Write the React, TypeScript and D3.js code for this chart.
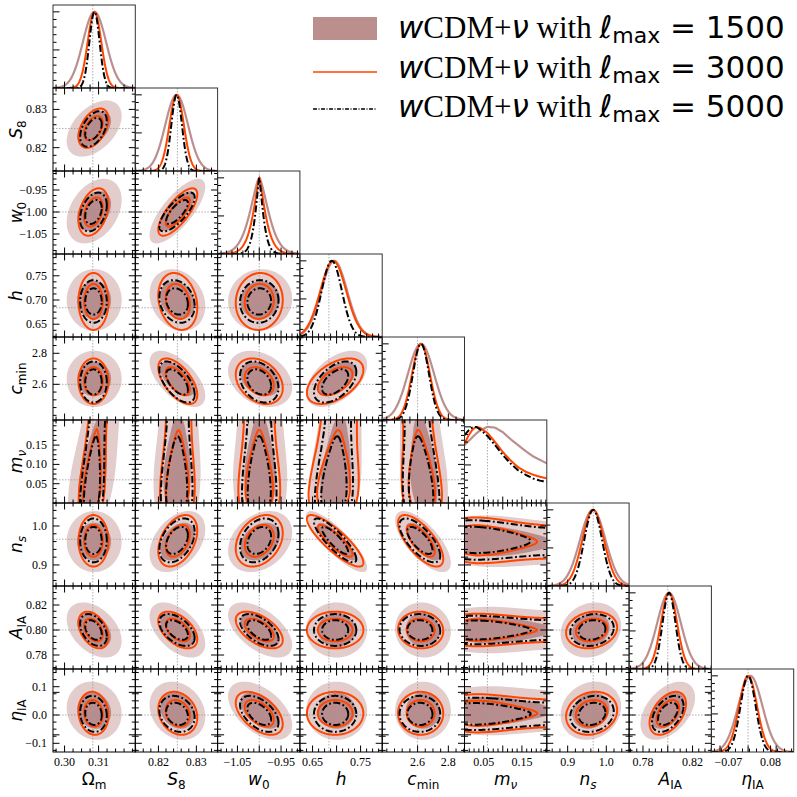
import React from 'react';
import * as d3 from 'd3';

// ---------------- data ----------------
const PARAM_KEYS = ['Om', 'S8', 'w0', 'h', 'cmin', 'mnu', 'ns', 'AIA', 'eta'];
const AXIS_LO = [0.2966, 0.8139, -1.0955, 0.6236, 2.37, 0.0, 0.846, 0.7688, -0.1307];
const AXIS_HI = [0.3208, 0.8356, -0.9068, 0.795, 2.905, 0.215, 1.059, 0.8352, 0.1625];
const TRUTH = [0.3083, 0.825, -1.0, 0.684, 2.6, 0.06, 0.966, 0.8, 0.0];

const X_TICKS = [[0.3, 0.31], [0.82, 0.83], [-1.05, -0.95], [0.65, 0.75], [2.6, 2.8], [0.05, 0.15], [0.9, 1.0], [0.78, 0.82], [-0.07, 0.08]];
const X_TICK_LABELS = [['0.30', '0.31'], ['0.82', '0.83'], ['−1.05', '−0.95'], ['0.65', '0.75'], ['2.6', '2.8'], ['0.05', '0.15'], ['0.9', '1.0'], ['0.78', '0.82'], ['−0.07', '0.08']];
const Y_TICKS = [[], [0.82, 0.83], [-1.05, -1.0, -0.95], [0.65, 0.7, 0.75], [2.6, 2.8], [0.05, 0.1, 0.15], [0.9, 1.0], [0.78, 0.8, 0.82], [-0.1, 0.0, 0.1]];
const Y_TICK_LABELS = [[], ['0.82', '0.83'], ['−1.05', '−1.00', '−0.95'], ['0.65', '0.70', '0.75'], ['2.6', '2.8'], ['0.05', '0.10', '0.15'], ['0.9', '1.0'], ['0.78', '0.80', '0.82'], ['−0.1', '0.0', '0.1']];
const MINOR_STEP = [0.0025, 0.002, 0.0125, 0.0125, 0.05, 0.0125, 0.02, 0.005, 0.025];

const AXIS_MAIN = ['Ω', 'S', 'w', 'h', 'c', 'm', 'n', 'A', 'η'];
const AXIS_MAIN_ITALIC = [false, true, true, true, true, true, true, true, true];
const AXIS_SUB = ['m', '8', '0', '', 'min', 'ν', 's', 'IA', 'IA'];
const AXIS_SUB_ITALIC = [false, false, false, false, false, true, true, false, false];

const RUN_LABELS = ['1500', '3000', '5000'];

// 2D (contour) means and widths
const MEAN_1500 = [0.3087, 0.825, -0.998, 0.7, 2.635, 0, 0.96, 0.8, 0.015];
const MEAN_3000 = [0.3085, 0.8251, -1.0, 0.697, 2.62, 0, 0.962, 0.8, 0.006];
const MEAN_5000 = [0.3085, 0.8249, -1.0, 0.697, 2.615, 0, 0.963, 0.8, 0.004];
const SD_1500 = [0.0033, 0.003, 0.03, 0.026, 0.074, 0, 0.032, 0.009, 0.042];
const SD_3000 = [0.0018, 0.0021, 0.022, 0.024, 0.06, 0, 0.027, 0.006, 0.031];
const SD_5000 = [0.0016, 0.0019, 0.018, 0.018, 0.054, 0, 0.023, 0.0052, 0.026];

// 1D marginal peaks, widths, shape exponents
const MEAN1D_1500 = [0.3088, 0.8248, -1.0, 0.695, 2.622, 0, 0.965, 0.801, 0.008];
const MEAN1D_3000 = [0.3088, 0.8248, -1.0, 0.693, 2.622, 0, 0.966, 0.801, 0.0];
const MEAN1D_5000 = [0.3088, 0.8248, -1.0, 0.69, 2.622, 0, 0.966, 0.801, 0.0];
const SD1D_1500 = [0.0034, 0.003, 0.019, 0.027, 0.085, 0, 0.033, 0.0095, 0.043];
const SD1D_3000 = [0.002, 0.0019, 0.0118, 0.027, 0.058, 0, 0.028, 0.0065, 0.032];
const SD1D_5000 = [0.0015, 0.0014, 0.0075, 0.021, 0.052, 0, 0.023, 0.0052, 0.027];
const SHAPE1D_1500 = [2, 2, 1.5, 2, 2, 2, 2, 2, 2];
const SHAPE1D_3000 = [2, 2, 1.3, 2, 2, 2, 2, 2, 2];
const SHAPE1D_5000 = [2, 2, 1.3, 2, 2, 2, 2, 2, 2];

// neutrino mass marginal (relative density)
const MNU_GRID = [0, 0.01, 0.02, 0.03, 0.04, 0.06, 0.08, 0.1, 0.12, 0.14, 0.16, 0.18, 0.2, 0.215];
const MNU_PDF_1500 = [0.76, 0.81, 0.86, 0.91, 0.95, 1.0, 0.99, 0.93, 0.84, 0.76, 0.68, 0.61, 0.56, 0.52];
const MNU_PDF_3000 = [0.78, 0.88, 0.96, 1.0, 0.99, 0.92, 0.8, 0.67, 0.56, 0.47, 0.41, 0.37, 0.34, 0.325];
const MNU_PDF_5000 = [0.89, 0.95, 0.99, 1.0, 0.97, 0.88, 0.76, 0.63, 0.52, 0.43, 0.37, 0.32, 0.29, 0.28];

// correlation coefficients (lower triangle, row i vs col j<i)
const CORR_ROWS = [
  [],
  [0.45],
  [0.35, 0.75],
  [0.0, -0.2, 0.05],
  [0.0, -0.6, -0.3, 0.5],
  [0.3, 0.05, 0.0, 0.15, -0.15],
  [0.0, 0.4, 0.3, -0.85, -0.7, -0.05],
  [-0.4, -0.5, -0.55, 0.0, -0.05, 0.0, 0.15],
  [-0.1, -0.2, -0.5, 0.0, 0.0, 0.0, 0.15, 0.45],
];

// ---------------- styling / layout ----------------
const W = 797;
const LEFT = 53;
const TOP = 5;
const PW = 82.3;
const PH = 83;
const N = 9;
const COL_FILL_OUT = '#e2cccc';
const COL_FILL_IN = '#b98d8d';
const COL_1500 = '#bc8f8f';
const COL_3000 = '#ff4500';
const COL_5000 = '#000000';
const DASHDOT = '7,2.5,1.8,2.5';
const SERIF = "'Liberation Serif', 'Times New Roman', serif";
const SANS = "'DejaVu Sans', sans-serif";
const R2_68 = 2.279;
const R2_95 = 5.991;

const MEANS = [MEAN_1500, MEAN_3000, MEAN_5000];
const SDS = [SD_1500, SD_3000, SD_5000];
const MEANS1D = [MEAN1D_1500, MEAN1D_3000, MEAN1D_5000];
const SDS1D = [SD1D_1500, SD1D_3000, SD1D_5000];
const SHAPES1D = [SHAPE1D_1500, SHAPE1D_3000, SHAPE1D_5000];
const MNU_PDFS = [MNU_PDF_1500, MNU_PDF_3000, MNU_PDF_5000];
const MNU = 5;

function corr(i: number, j: number) {
  if (i === j) return 1;
  return i > j ? CORR_ROWS[i][j] : CORR_ROWS[j][i];
}

const xs = d3.range(N).map((j) => d3.scaleLinear().domain([AXIS_LO[j], AXIS_HI[j]]).range([LEFT + j * PW, LEFT + (j + 1) * PW]));
const ys = d3.range(N).map((i) => d3.scaleLinear().domain([AXIS_LO[i], AXIS_HI[i]]).range([TOP + (i + 1) * PH, TOP + i * PH]));

const pdfInterp = MNU_PDFS.map((p) => d3.scaleLinear().domain(MNU_GRID).range(p).clamp(true));
const mnuStats = pdfInterp.map((f) => {
  const ms = d3.range(0, 0.215, 0.0005);
  const w = ms.map((m) => f(m));
  const tot = d3.sum(w);
  const mean = d3.sum(ms.map((m, k) => m * w[k])) / tot;
  const v = d3.sum(ms.map((m, k) => (m - mean) * (m - mean) * w[k])) / tot;
  return { mean, sd: Math.sqrt(v) };
});

function ellipsePath(k: number, i: number, j: number, r2: number) {
  const mx = MEANS[k][j], my = MEANS[k][i];
  const sx = SDS[k][j], sy = SDS[k][i];
  const rho = corr(i, j);
  const r = Math.sqrt(r2);
  const pts = d3.range(0, 181).map((t) => {
    const a = (t / 180) * 2 * Math.PI;
    const u = Math.cos(a), v = Math.sin(a);
    const dx = sx * r * u;
    const dy = sy * r * (rho * u + Math.sqrt(1 - rho * rho) * v);
    return [xs[j](mx + dx), ys[i](my + dy)] as [number, number];
  });
  return (d3.line()(pts) || '') + 'Z';
}

// contours in panels involving the neutrino mass (non-Gaussian marginal)
function mnuContourPaths(k: number, other: number, mIsX: boolean) {
  const nm = 110, no = 110;
  const mLo = -0.03, mHi = 0.25;
  const oSpan = AXIS_HI[other] - AXIS_LO[other];
  const oLo = AXIS_LO[other] - 0.2 * oSpan, oHi = AXIS_HI[other] + 0.2 * oSpan;
  const pdf = pdfInterp[k];
  const { mean: mbar, sd: msd } = mnuStats[k];
  const rho = corr(MNU, other);
  const sx = SDS[k][other], mu = MEANS[k][other];
  const b = (rho * sx) / msd;
  const s = sx * Math.sqrt(1 - rho * rho);
  const nx = mIsX ? nm : no, ny = mIsX ? no : nm;
  const xLo = mIsX ? mLo : oLo, xHi = mIsX ? mHi : oHi;
  const yLo = mIsX ? oLo : mLo, yHi = mIsX ? oHi : mHi;
  const vals: number[] = new Array(nx * ny);
  const inside: number[] = [];
  for (let iy = 0; iy < ny; iy++) {
    for (let ix = 0; ix < nx; ix++) {
      const x = xLo + ((ix + 0.5) / nx) * (xHi - xLo);
      const y = yLo + ((iy + 0.5) / ny) * (yHi - yLo);
      const m = mIsX ? x : y;
      const o = mIsX ? y : x;
      const z = (o - mu - b * (m - mbar)) / s;
      const d = pdf(m) * Math.exp(-0.5 * z * z);
      vals[ix + iy * nx] = d;
      if (m >= 0 && m <= 0.215) inside.push(d);
    }
  }
  inside.sort((a, c) => c - a);
  const tot = d3.sum(inside);
  const level = (f: number) => {
    let c = 0;
    for (let q = 0; q < inside.length; q++) {
      c += inside[q];
      if (c >= f * tot) return inside[q];
    }
    return inside[inside.length - 1];
  };
  const l95 = level(0.95), l68 = level(0.68);
  const cs = d3.contours().size([nx, ny]).thresholds([l95, l68])(vals);
  const xsc = mIsX ? xs[MNU] : xs[other];
  const ysc = mIsX ? ys[other] : ys[MNU];
  const proj = d3.geoTransform({
    point: function (gx: number, gy: number) {
      // @ts-ignore
      this.stream.point(xsc(xLo + (gx / nx) * (xHi - xLo)), ysc(yLo + (gy / ny) * (yHi - yLo)));
    },
  });
  const gp = d3.geoPath(proj as any);
  return [gp(cs[0] as any) || '', gp(cs[1] as any) || ''];
}

function contourPaths(k: number, i: number, j: number) {
  if (i === MNU) return mnuContourPaths(k, j, false);
  if (j === MNU) return mnuContourPaths(k, i, true);
  return [ellipsePath(k, i, j, R2_95), ellipsePath(k, i, j, R2_68)];
}

function density1D(k: number, p: number) {
  const yTop = TOP + p * PH, yBot = TOP + (p + 1) * PH;
  const ysc = d3.scaleLinear().domain([0, 1.09]).range([yBot, yTop]);
  let pts: [number, number][];
  if (p === MNU) {
    const f = pdfInterp[k];
    const ms = d3.range(0, 0.2151, 0.0025);
    const mx = d3.max(ms.map((m) => f(m))) || 1;
    const line = d3.line<number>().x((m) => xs[p](m)).y((m) => ysc(f(m) / mx)).curve(d3.curveBasis);
    return line(ms) || '';
  }
  const mu = MEANS1D[k][p], sd = SDS1D[k][p], sh = SHAPES1D[k][p];
  const vs = d3.range(0, 301).map((t) => AXIS_LO[p] + (t / 300) * (AXIS_HI[p] - AXIS_LO[p]));
  pts = vs.map((v) => {
    const z = Math.abs((v - mu) / sd);
    return [xs[p](v), ysc(Math.exp(-0.5 * Math.pow(z, sh)))];
  });
  return d3.line()(pts) || '';
}

function minorTicks(p: number, majors: number[]) {
  const step = MINOR_STEP[p];
  const anchor = majors.length ? majors[0] : TRUTH[p];
  const out: number[] = [];
  const kLo = Math.ceil((AXIS_LO[p] - anchor) / step - 1e-9);
  const kHi = Math.floor((AXIS_HI[p] - anchor) / step + 1e-9);
  for (let q = kLo; q <= kHi; q++) {
    const v = anchor + q * step;
    if (!majors.some((m) => Math.abs(m - v) < step * 0.1)) out.push(v);
  }
  return out;
}

function AxisLabel({ p, x, y, rotate }: { p: number; x: number; y: number; rotate?: boolean }) {
  return (
    <text
      x={x}
      y={y}
      transform={rotate ? `rotate(-90 ${x} ${y})` : undefined}
      textAnchor="middle"
      fontFamily={SANS}
      fontSize={17}
      fill="#000"
    >
      <tspan fontStyle={AXIS_MAIN_ITALIC[p] ? 'italic' : 'normal'}>{AXIS_MAIN[p]}</tspan>
      {AXIS_SUB[p] ? (
        <tspan fontSize={12} dy={4} fontStyle={AXIS_SUB_ITALIC[p] ? 'italic' : 'normal'}>
          {AXIS_SUB[p]}
        </tspan>
      ) : null}
    </text>
  );
}

function Panel({ i, j }: { i: number; j: number }) {
  const x0 = LEFT + j * PW, y0 = TOP + i * PH;
  const x1 = x0 + PW, y1 = y0 + PH;
  const clipId = `clip-${i}-${j}`;
  const diag = i === j;
  const tickEls: React.ReactNode[] = [];
  const MAJ = 6.5, MIN = 3.5;
  const xMaj = X_TICKS[j].concat(Y_TICKS[j]).filter((v, q, a) => a.findIndex((u) => Math.abs(u - v) < 1e-9) === q);
  const xMin = minorTicks(j, xMaj);
  xMaj.forEach((v, q) => {
    const px = xs[j](v);
    tickEls.push(<line key={`xb${q}`} x1={px} x2={px} y1={y1} y2={y1 - MAJ} />);
    if (!diag) tickEls.push(<line key={`xt${q}`} x1={px} x2={px} y1={y0} y2={y0 + MAJ} />);
  });
  xMin.forEach((v, q) => {
    const px = xs[j](v);
    tickEls.push(<line key={`xbm${q}`} x1={px} x2={px} y1={y1} y2={y1 - MIN} />);
    if (!diag) tickEls.push(<line key={`xtm${q}`} x1={px} x2={px} y1={y0} y2={y0 + MIN} />);
  });
  if (!diag) {
    const yMaj = Y_TICKS[i].concat(X_TICKS[i]).filter((v, q, a) => a.findIndex((u) => Math.abs(u - v) < 1e-9) === q);
    const yMin = minorTicks(i, yMaj);
    yMaj.forEach((v, q) => {
      const py = ys[i](v);
      tickEls.push(<line key={`yl${q}`} x1={x0} x2={x0 + MAJ} y1={py} y2={py} />);
      tickEls.push(<line key={`yr${q}`} x1={x1} x2={x1 - MAJ} y1={py} y2={py} />);
    });
    yMin.forEach((v, q) => {
      const py = ys[i](v);
      tickEls.push(<line key={`ylm${q}`} x1={x0} x2={x0 + MIN} y1={py} y2={py} />);
      tickEls.push(<line key={`yrm${q}`} x1={x1} x2={x1 - MIN} y1={py} y2={py} />);
    });
  } else {
    const ysc = d3.scaleLinear().domain([0, 1.09]).range([y1, y0]);
    d3.range(1, 11).forEach((q) => {
      const py = ysc(q / 10);
      const len = q % 5 === 0 ? MAJ : MIN;
      tickEls.push(<line key={`yd${q}`} x1={x0} x2={x0 + len} y1={py} y2={py} />);
    });
  }

  const tx = xs[j](TRUTH[j]);
  const ty = diag ? null : ys[i](TRUTH[i]);

  let content: React.ReactNode;
  if (diag) {
    content = (
      <g clipPath={`url(#${clipId})`}>
        <line x1={tx} x2={tx} y1={y0} y2={y1} stroke="#999" strokeWidth={0.8} strokeDasharray="1.5,1.5" />
        <path d={density1D(0, i)} fill="none" stroke={COL_1500} strokeWidth={2.2} />
        <path d={density1D(1, i)} fill="none" stroke={COL_3000} strokeWidth={2} />
        <path d={density1D(2, i)} fill="none" stroke={COL_5000} strokeWidth={2} strokeDasharray={DASHDOT} />
      </g>
    );
  } else {
    const c1500 = contourPaths(0, i, j);
    const c3000 = contourPaths(1, i, j);
    const c5000 = contourPaths(2, i, j);
    content = (
      <g clipPath={`url(#${clipId})`}>
        <path d={c1500[0]} fill={COL_FILL_OUT} stroke="none" />
        <path d={c1500[1]} fill={COL_FILL_IN} stroke="none" />
        <line x1={tx} x2={tx} y1={y0} y2={y1} stroke="#999" strokeWidth={0.8} strokeDasharray="1.5,1.5" />
        <line x1={x0} x2={x1} y1={ty!} y2={ty!} stroke="#999" strokeWidth={0.8} strokeDasharray="1.5,1.5" />
        <path d={c3000[0]} fill="none" stroke={COL_3000} strokeWidth={2} />
        <path d={c3000[1]} fill="none" stroke={COL_3000} strokeWidth={2} />
        <path d={c5000[0]} fill="none" stroke={COL_5000} strokeWidth={2} strokeDasharray={DASHDOT} />
        <path d={c5000[1]} fill="none" stroke={COL_5000} strokeWidth={2} strokeDasharray={DASHDOT} />
      </g>
    );
  }
  return (
    <g>
      <clipPath id={clipId}>
        <rect x={x0} y={y0} width={PW} height={PH} />
      </clipPath>
      {content}
      <g stroke="#000" strokeWidth={1}>{tickEls}</g>
      <rect x={x0} y={y0} width={PW} height={PH} fill="none" stroke={diag ? '#333' : '#000'} strokeWidth={1} />
    </g>
  );
}

function LegendText({ y, run }: { y: number; run: string }) {
  return (
    <text x={398} y={y} fontSize={31} fill="#000">
      <tspan fontFamily={SANS} fontStyle="italic">w</tspan>
      <tspan fontFamily={SERIF}>CDM+</tspan>
      <tspan fontFamily={SANS} fontStyle="italic">ν</tspan>
      <tspan fontFamily={SERIF}> with </tspan>
      <tspan fontFamily={SANS} fontStyle="italic">ℓ</tspan>
      <tspan fontFamily={SANS} fontSize={22} dy={5}>max</tspan>
      <tspan fontFamily={SANS} dy={-5}>{` = ${run}`}</tspan>
    </text>
  );
}

export default function App() {
  const panels: React.ReactNode[] = [];
  for (let i = 0; i < N; i++) for (let j = 0; j <= i; j++) panels.push(<Panel key={`${i}-${j}`} i={i} j={j} />);
  const bottom = TOP + N * PH;
  return (
    <svg width={W} height={W} style={{ position: 'absolute', left: 0, top: 0, background: '#fff' }}>
      <rect x={0} y={0} width={W} height={W} fill="#fff" />
      {panels}
      {d3.range(N).map((j) =>
        X_TICKS[j].map((v, q) => (
          <text key={`xl${j}-${q}`} x={xs[j](v)} y={bottom + 14} textAnchor="middle" fontFamily={SERIF} fontSize={12}>
            {X_TICK_LABELS[j][q]}
          </text>
        ))
      )}
      {d3.range(1, N).map((i) =>
        Y_TICKS[i].map((v, q) => (
          <text key={`yl${i}-${q}`} x={LEFT - 6} y={ys[i](v) + 4} textAnchor="end" fontFamily={SERIF} fontSize={12}>
            {Y_TICK_LABELS[i][q]}
          </text>
        ))
      )}
      {d3.range(N).map((j) => (
        <AxisLabel key={`ax${j}`} p={j} x={LEFT + (j + 0.5) * PW} y={bottom + 33} />
      ))}
      {d3.range(1, N).map((i) => (
        <AxisLabel key={`ay${i}`} p={i} x={22} y={TOP + (i + 0.5) * PH} rotate />
      ))}
      <rect x={313} y={17} width={64} height={23} fill={COL_1500} />
      <line x1={313} x2={377} y1={72} y2={72} stroke={COL_3000} strokeWidth={1.6} />
      <line x1={313} x2={377} y1={109} y2={109} stroke={COL_5000} strokeWidth={1.4} strokeDasharray="4,1.5,1,1.5" />
      <LegendText y={38} run={RUN_LABELS[0]} />
      <LegendText y={78} run={RUN_LABELS[1]} />
      <LegendText y={117} run={RUN_LABELS[2]} />
    </svg>
  );
}
